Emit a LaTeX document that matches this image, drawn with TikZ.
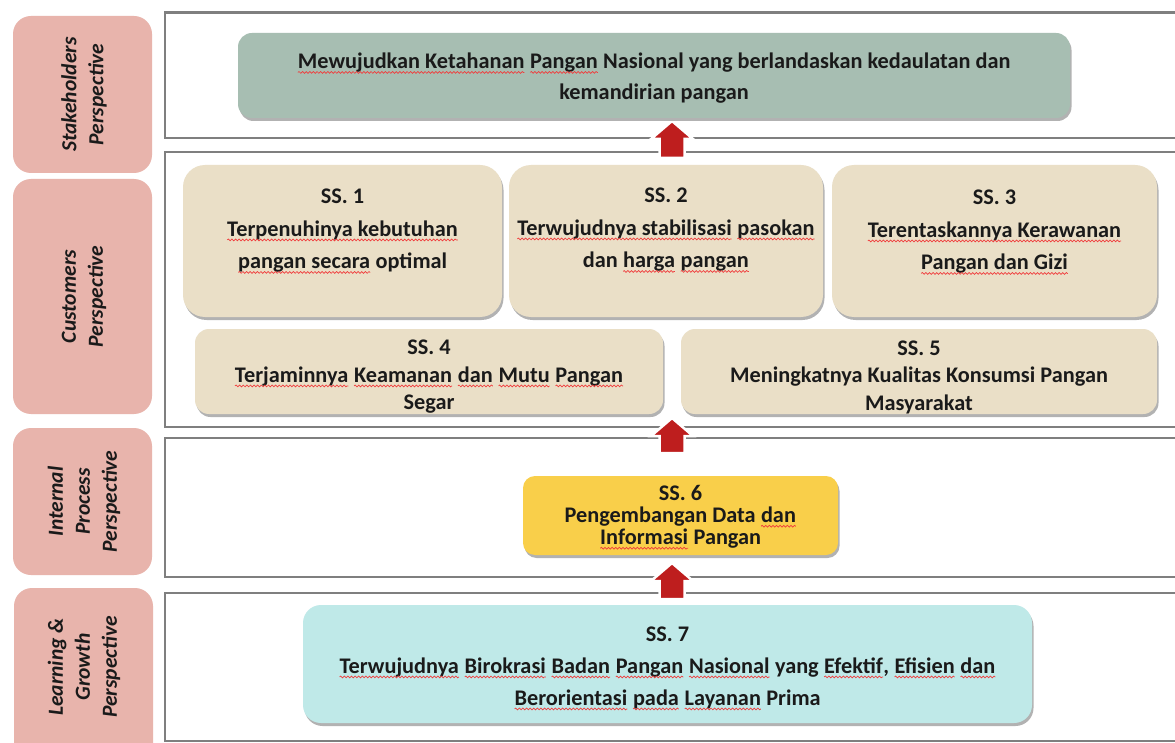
\documentclass[tikz,border=0pt]{standalone}
\usepackage{fontspec}
\setmainfont{Carlito}
\usetikzlibrary{shadows,decorations.pathmorphing}
\definecolor{framegray}{HTML}{7F7F7F}
\definecolor{pinkc}{HTML}{E8B4AC}
\definecolor{greenc}{HTML}{A7BEB2}
\definecolor{tanc}{HTML}{EADFC7}
\definecolor{yellowc}{HTML}{F9CF4A}
\definecolor{cyanc}{HTML}{BFE9E8}
\definecolor{arrowred}{HTML}{BE1E1E}
\definecolor{spellred}{HTML}{F03C3C}
\definecolor{txtc}{HTML}{1A1A1A}
\newcommand\sq[1]{\tikz[baseline=(w.base)]{\node[inner sep=0pt, outer sep=0pt] (w) {#1};
  \draw[spellred, line width=0.7pt, decorate,
    decoration={snake, amplitude=0.9pt, segment length=3.6pt}]
    ([yshift=-3.5pt]w.base west) -- ([yshift=-3.5pt]w.base east);}}
\newcommand\blkarrow[3]{%
  \filldraw[blockarr] (#1-12.5,#3) -- (#1-12.5,#2+18) -- (#1-21,#2+18) -- (#1,#2)
    -- (#1+21,#2+18) -- (#1+12.5,#2+18) -- (#1+12.5,#3) -- cycle;}
\begin{document}
\begin{tikzpicture}[x=1pt,y=-1pt,
  frame/.style={draw=framegray, line width=2.6pt},
  persp/.style={fill=pinkc, rounded corners=18pt},
  persptext/.style={rotate=90, align=center, text=txtc, inner sep=0,
    font=\fontsize{21.5}{27}\selectfont\bfseries\itshape},
  box/.style={inner sep=0, rounded corners=#1,
    drop shadow={shadow xshift=1.5pt, shadow yshift=-3pt, opacity=0.3, fill=black}},
  txt/.style={align=center, inner sep=0, text=txtc,
    font=\fontsize{22.3}{#1}\selectfont\bfseries},
  blockarr/.style={fill=arrowred, draw=white, line width=2.5pt, line join=miter}
]
\useasboundingbox (0,0) rectangle (1175,743);
\fill[white] (0,0) rectangle (1175,743);
% frames
\draw[frame] (165,12.5) rectangle (1200,138);
\draw[frame] (165,152) rectangle (1200,427);
\draw[frame] (165,438) rectangle (1200,577);
\draw[frame] (165,593) rectangle (1200,741);
% perspective labels
\path[persp] (13,16) rectangle (152,173);
\path[persp] (13,179) rectangle (152,414);
\path[persp] (13,428) rectangle (152,575);
\path[persp] (14,588) rectangle (153,770);
\node[persptext] (p1) at (84,94.5) {Stakeholders\\Perspective};
\node[persptext] (p2) at (84,296.5) {Customers\\Perspective};
\node[persptext] (p3) at (84,501.5) {Internal\\Process\\Perspective};
\node[persptext] (p4) at (84,667) {Learning \&\\Growth\\Perspective};
% arrows
\blkarrow{672}{121}{158}
\blkarrow{672}{418}{453}
\blkarrow{672}{563}{599}
% boxes
\node[box=14pt, fill=greenc, minimum width=832, minimum height=85] (goal) at (654,75.5) {};
\node[box=22pt, fill=tanc, minimum width=319, minimum height=152] (ss1) at (342.5,241) {};
\node[box=22pt, fill=tanc, minimum width=314, minimum height=152] (ss2) at (666,241) {};
\node[box=22pt, fill=tanc, minimum width=325, minimum height=152] (ss3) at (994.5,241) {};
\node[box=14pt, fill=tanc, minimum width=468, minimum height=85] (ss4) at (429,371.5) {};
\node[box=14pt, fill=tanc, minimum width=476, minimum height=85] (ss5) at (919,371.5) {};
\node[box=12pt, fill=yellowc, minimum width=315, minimum height=79] (ss6) at (680.5,515.5) {};
\node[box=18pt, fill=cyanc, minimum width=729, minimum height=118] (ss7) at (667.5,664) {};
% texts
\node[txt=31] (goalt) at (654,78.5) {\sq{Mewujudkan Ketahanan} \sq{Pangan} Nasional yang berlandaskan kedaulatan dan\\kemandirian pangan};
\node[txt=32.5] (ss1t) at (342.5,231.5) {SS. 1\\\sq{Terpenuhinya kebutuhan}\\\sq{pangan secara} optimal};
\node[txt=32.5] (ss2t) at (666,230.5) {SS. 2\\\sq{Terwujudnya stabilisasi} \sq{pasokan}\\dan \sq{harga} \sq{pangan}};
\node[txt=32.5] (ss3t) at (994.5,232.5) {SS. 3\\\sq{Terentaskannya Kerawanan}\\\sq{Pangan dan Gizi}};
\node[txt=27.5] (ss4t) at (429,377) {SS. 4\\\sq{Terjaminnya} \sq{Keamanan} \sq{dan} \sq{Mutu} \sq{Pangan}\\Segar};
\node[txt=27.5] (ss5t) at (919,377) {SS. 5\\Meningkatnya Kualitas Konsumsi Pangan\\Masyarakat};
\node[txt=22] (ss6t) at (680.5,517.5) {SS. 6\\Pengembangan Data \sq{dan}\\\sq{Informasi} Pangan};
\node[txt=32] (ss7t) at (667.5,668.5) {SS. 7\\\sq{Terwujudnya} \sq{Birokrasi} \sq{Badan} \sq{Pangan} \sq{Nasional} yang \sq{Efektif}, \sq{Efisien} \sq{dan}\\\sq{Berorientasi} \sq{pada} \sq{Layanan} Prima};
\end{tikzpicture}
\end{document}
